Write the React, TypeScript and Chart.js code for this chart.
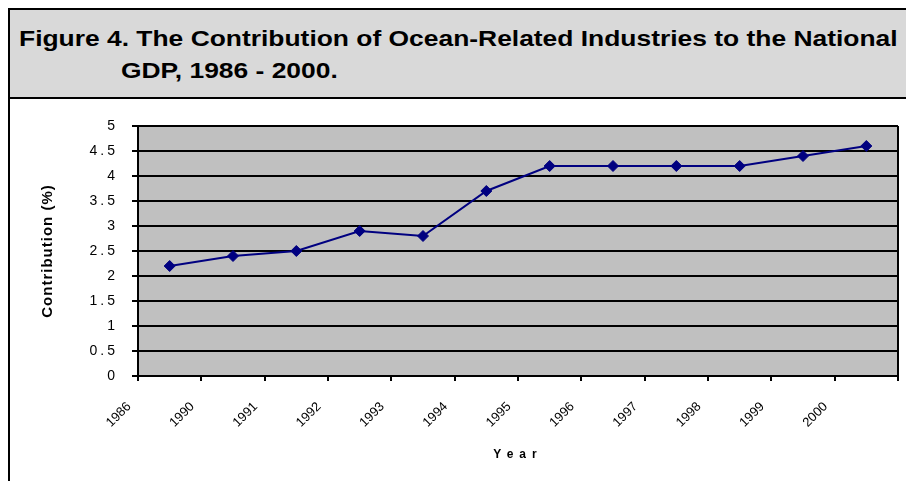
import React, { useEffect, useRef } from 'react';
import { Chart, registerables } from 'chart.js';

Chart.register(...registerables);

const titleLine1 = 'Figure 4. The Contribution of Ocean-Related Industries to the National';
const titleLine2 = 'GDP, 1986 - 2000.';
const yearLabels = ['1986', '1990', '1991', '1992', '1993', '1994', '1995', '1996', '1997', '1998', '1999', '2000'];
const contribution = [2.2, 2.4, 2.5, 2.9, 2.8, 3.7, 4.2, 4.2, 4.2, 4.2, 4.4, 4.6];
const yMin = 0;
const yMax = 5;
const yStep = 0.5;
const yTitle = 'Contribution (%)';
const xTitle = 'Year';

const FONT = '"Liberation Sans", Arial, sans-serif';

export default function App() {
  const ref = useRef<HTMLCanvasElement>(null);

  useEffect(() => {
    if (!ref.current) return;

    const plotBg = {
      id: 'plotBg',
      beforeDraw(chart: any) {
        const { ctx, chartArea } = chart;
        ctx.save();
        ctx.fillStyle = '#c0c0c0';
        ctx.fillRect(chartArea.left, chartArea.top, chartArea.right - chartArea.left, chartArea.bottom - chartArea.top);
        ctx.restore();
      },
      beforeDatasetsDraw(chart: any) {
        const { ctx, chartArea } = chart;
        ctx.save();
        ctx.strokeStyle = '#000';
        ctx.lineWidth = 2;
        ctx.beginPath();
        ctx.moveTo(chartArea.right, chartArea.top);
        ctx.lineTo(chartArea.right, chartArea.bottom);
        ctx.stroke();
        ctx.restore();
      },
    };

    const spacing = {
      id: 'spacing',
      afterLayout(chart: any) {
        const wrap = (scale: any, method: string, sp: string) => {
          const key = '__wrapped_' + method;
          if (scale[key]) return;
          const orig = scale[method].bind(scale);
          scale[method] = (...args: any[]) => {
            const c = chart.ctx as any;
            c.save();
            c.letterSpacing = sp;
            orig(...args);
            c.restore();
          };
          scale[key] = true;
        };
        wrap(chart.scales.y, 'drawLabels', '3px');
        wrap(chart.scales.y, 'drawTitle', '1px');
        wrap(chart.scales.x, 'drawTitle', '6px');
      },
    };

    const chart = new Chart(ref.current, {
      type: 'line',
      data: {
        datasets: [
          {
            label: yTitle,
            data: contribution.map((v, i) => ({ x: i + 0.5, y: v })),
            borderColor: '#000080',
            backgroundColor: '#000080',
            borderWidth: 2,
            pointStyle: 'rectRot',
            pointRadius: 5.5,
            pointBorderWidth: 1,
            pointBackgroundColor: '#000080',
            pointBorderColor: '#000080',
            tension: 0,
          },
        ],
      },
      options: {
        responsive: false,
        animation: false,
        layout: { padding: { top: 27, right: 16, left: 0, bottom: 0 } },
        plugins: {
          legend: { display: false },
          tooltip: { enabled: false },
        },
        scales: {
          x: {
            type: 'linear',
            min: 0,
            max: yearLabels.length,
            afterFit(scale: any) {
              scale.height = 105;
              scale.paddingLeft = 0;
              scale.paddingRight = 0;
            },
            afterBuildTicks(scale: any) {
              scale.ticks = Array.from({ length: yearLabels.length + 1 }, (_, i) => ({ value: i }));
            },
            ticks: {
              autoSkip: false,
              maxRotation: 45,
              minRotation: 45,
              padding: 18,
              labelOffset: -9,
              color: '#000',
              font: { family: FONT, size: 13 },
              callback: (v: any) => yearLabels[v as number] ?? '',
            },
            grid: {
              drawOnChartArea: false,
              drawTicks: true,
              tickLength: 5,
              color: '#000',
              lineWidth: 2,
            },
            border: { display: true, color: '#000', width: 2 },
            title: {
              display: true,
              text: xTitle,
              color: '#000',
              font: { family: FONT, size: 12, weight: 'bold' },
              padding: { top: 0, bottom: 19 },
            },
          },
          y: {
            type: 'linear',
            min: yMin,
            max: yMax,
            afterFit(scale: any) {
              scale.width = 128;
              scale.paddingTop = 0;
              scale.paddingBottom = 0;
            },
            ticks: {
              stepSize: yStep,
              padding: 14,
              color: '#000',
              font: { family: FONT, size: 14 },
              callback: (v: any) => String(v),
            },
            grid: {
              color: '#000',
              lineWidth: 2,
              tickLength: 6,
            },
            border: { display: true, color: '#000', width: 2 },
            title: {
              display: true,
              text: yTitle,
              color: '#000',
              font: { family: FONT, size: 15, weight: 'bold' },
              padding: { top: 29, bottom: 0 },
            },
          },
        },
      },
      plugins: [plotBg, spacing],
    });

    return () => chart.destroy();
  }, []);

  const lineStyle: React.CSSProperties = {
    position: 'absolute',
    fontFamily: FONT,
    fontWeight: 'bold',
    fontSize: 22,
    lineHeight: '22px',
    whiteSpace: 'nowrap',
    color: '#000',
    transform: 'scaleX(1.2)',
    transformOrigin: 'left top',
  };

  return (
    <div style={{ position: 'relative', width: 906, height: 473, overflow: 'hidden' }}>
      <div
        style={{
          position: 'absolute',
          left: 0,
          top: 0,
          width: 1000,
          height: 600,
          borderTop: '2px solid #000',
          borderLeft: '2px solid #000',
          boxSizing: 'border-box',
          background: '#fff',
        }}
      >
        <div
          style={{
            position: 'relative',
            height: 87,
            background: '#d9d9d9',
            borderBottom: '2px solid #000',
          }}
        >
          <div style={{ ...lineStyle, left: 9, top: 18 }}>{titleLine1}</div>
          <div style={{ ...lineStyle, left: 111, top: 50 }}>{titleLine2}</div>
        </div>
        <canvas ref={ref} width={904} height={382} style={{ display: 'block', width: 904, height: 382 }} />
      </div>
    </div>
  );
}
